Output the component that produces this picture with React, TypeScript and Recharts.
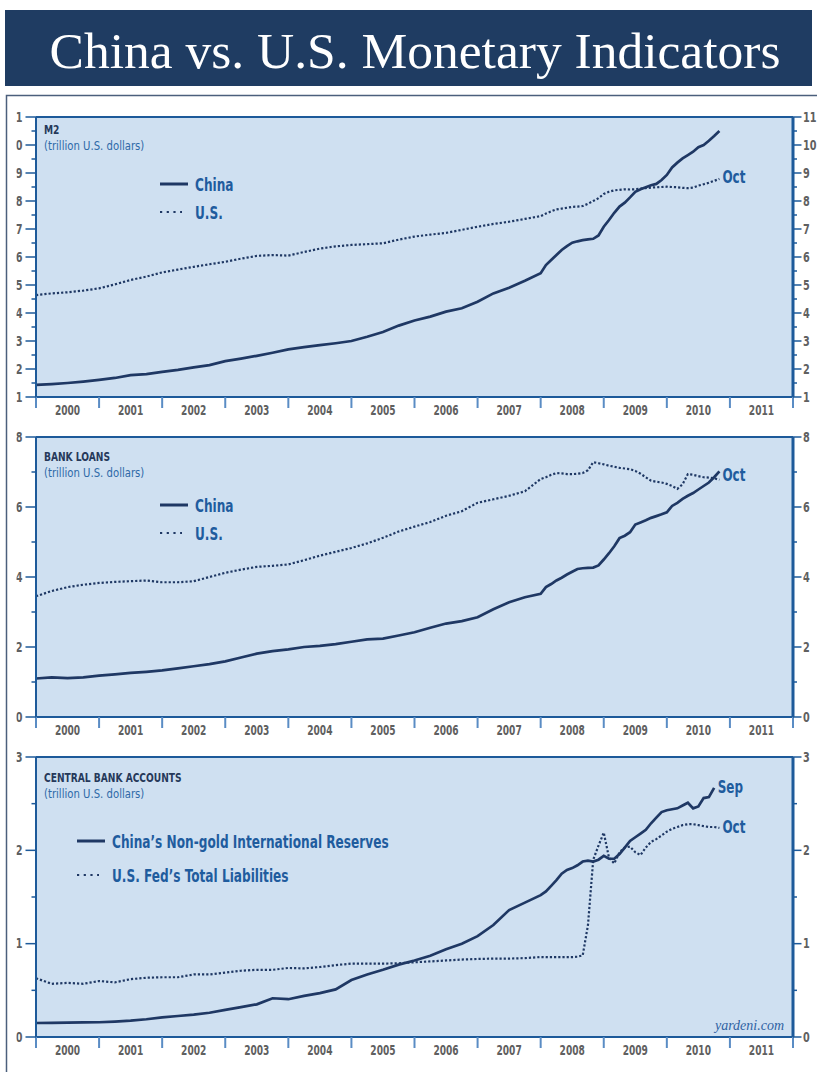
import React from "react";
import {
  CartesianGrid,
  Line,
  LineChart,
  ReferenceDot,
  ReferenceLine,
  XAxis,
  YAxis,
} from "recharts";

// month index from Jan 2000: quarterly through 2007, monthly from 2008 on
const months = [
  0, 3, 6, 9, 12, 15, 18, 21, 24, 27, 30, 33, 36, 39, 42, 45, 48, 51, 54, 57, 60, 63, 66, 69, 72,
  75, 78, 81, 84, 87, 90, 93, 96, 97, 98, 99, 100, 101, 102, 103, 104, 105, 106, 107, 108, 109,
  110, 111, 112, 113, 114, 115, 116, 117, 118, 119, 120, 121, 122, 123, 124, 125, 126, 127, 128,
  129, 130,
];

const m2China = [
  1.43, 1.46, 1.5, 1.55, 1.61, 1.68, 1.78, 1.82, 1.9, 1.97, 2.06, 2.14, 2.28, 2.37, 2.47, 2.58,
  2.7, 2.78, 2.85, 2.92, 3.0, 3.15, 3.32, 3.55, 3.73, 3.87, 4.05, 4.17, 4.4, 4.7, 4.9, 5.15, 5.42,
  5.71, 5.89, 6.07, 6.25, 6.39, 6.51, 6.56, 6.6, 6.63, 6.65, 6.77, 7.08, 7.32, 7.58, 7.8, 7.94,
  8.13, 8.33, 8.42, 8.49, 8.56, 8.61, 8.75, 8.93, 9.2, 9.37, 9.52, 9.64, 9.76, 9.92, 10.0, 10.15,
  10.32, 10.5,
];
const m2US = [
  4.64, 4.7, 4.74, 4.8, 4.88, 5.02, 5.18, 5.3, 5.45, 5.55, 5.65, 5.74, 5.83, 5.94, 6.04, 6.07,
  6.05, 6.18, 6.3, 6.38, 6.43, 6.46, 6.49, 6.62, 6.73, 6.8, 6.86, 6.97, 7.08, 7.18, 7.26, 7.36,
  7.46, 7.55, 7.63, 7.7, 7.73, 7.76, 7.79, 7.8, 7.82, 7.9, 8.0, 8.1, 8.25, 8.33, 8.38, 8.4, 8.42,
  8.41, 8.42, 8.44, 8.46, 8.48, 8.49, 8.5, 8.51, 8.5, 8.49, 8.47, 8.46, 8.48, 8.55, 8.6, 8.65,
  8.72, 8.79,
];

const loansChina = [
  1.1, 1.13, 1.11, 1.13, 1.18, 1.22, 1.26, 1.29, 1.33, 1.39, 1.45, 1.51, 1.59, 1.7, 1.81, 1.88,
  1.93, 2.0, 2.03, 2.08, 2.15, 2.22, 2.24, 2.33, 2.42, 2.55, 2.67, 2.74, 2.85, 3.08, 3.28, 3.42,
  3.52, 3.71, 3.8, 3.9, 3.98, 4.07, 4.15, 4.23, 4.25, 4.26, 4.27, 4.33, 4.5, 4.68, 4.88, 5.11,
  5.18, 5.28, 5.5, 5.56, 5.62, 5.69, 5.74, 5.79, 5.85, 6.03, 6.12, 6.23, 6.32, 6.4, 6.5, 6.6, 6.7,
  6.85, 7.02,
];
const loansUS = [
  3.45, 3.6, 3.71, 3.78, 3.83, 3.86, 3.88, 3.9, 3.85, 3.85, 3.88, 4.0, 4.12, 4.21, 4.29, 4.32,
  4.36, 4.48, 4.61, 4.72, 4.83, 4.96, 5.12, 5.3, 5.44, 5.57, 5.75, 5.88, 6.12, 6.22, 6.32, 6.45,
  6.8, 6.85, 6.92, 6.97, 6.96, 6.94, 6.94, 6.95, 6.97, 7.05, 7.28, 7.25, 7.22, 7.18, 7.15, 7.12,
  7.1, 7.08, 7.03, 6.95, 6.85, 6.75, 6.72, 6.7, 6.66, 6.6, 6.52, 6.65, 6.94, 6.92, 6.88, 6.85,
  6.84, 6.82, 6.78,
];

const reservesChina = [
  0.15, 0.152, 0.154, 0.156, 0.158, 0.165, 0.175, 0.19, 0.21, 0.225, 0.24, 0.26, 0.29, 0.32, 0.35,
  0.415, 0.405, 0.44, 0.47, 0.51, 0.61, 0.67, 0.72, 0.775, 0.82, 0.87, 0.94, 1.0, 1.08, 1.2, 1.36,
  1.44, 1.52, 1.56, 1.62, 1.68, 1.75, 1.79, 1.81, 1.84, 1.88, 1.89, 1.88, 1.9, 1.94, 1.91, 1.91,
  1.96, 2.03, 2.1, 2.14, 2.18, 2.22, 2.29, 2.35, 2.41, 2.43, 2.44, 2.45, 2.48, 2.51, 2.45, 2.47,
  2.56, 2.57, 2.67, null,
];
const fedLiabilities = [
  0.63, 0.57, 0.58, 0.57, 0.6, 0.585, 0.62, 0.635, 0.64, 0.64, 0.67, 0.67, 0.69, 0.71, 0.72, 0.72,
  0.74, 0.735, 0.75, 0.77, 0.786, 0.786, 0.786, 0.79, 0.8, 0.81, 0.82, 0.83, 0.836, 0.84, 0.84,
  0.845, 0.857, 0.855, 0.855, 0.855, 0.855, 0.855, 0.856, 0.86, 0.875, 1.2, 1.9, 2.05, 2.19, 1.92,
  1.86, 1.98, 2.03, 2.04, 1.98, 1.95, 2.03, 2.09, 2.12, 2.16, 2.2, 2.23, 2.25, 2.27, 2.28, 2.28,
  2.27, 2.26, 2.25, 2.25, 2.24,
];

const yearTicks = [0, 12, 24, 36, 48, 60, 72, 84, 96, 108, 120, 132, 144];

const m2Ticks = [1, 1.5, 2, 2.5, 3, 3.5, 4, 4.5, 5, 5.5, 6, 6.5, 7, 7.5, 8, 8.5, 9, 9.5, 10, 10.5, 11];
const m2Labels = [1, 2, 3, 4, 5, 6, 7, 8, 9, 10, 11];
const loanTicks = [0, 1, 2, 3, 4, 5, 6, 7, 8];
const loanLabels = [0, 2, 4, 6, 8];
const cbTicks = [0, 0.5, 1, 1.5, 2, 2.5, 3];
const cbLabels = [0, 1, 2, 3];

const NAVY = "#1f3864";
const AXIS = "#1d5a9a";
const YEAR_TICK = "#5a8cc4";
const BG = "#cfe0f1";
const BLUE_TEXT = "#1f5c9e";
const GRAY = "#606060";
const FONT = "'Liberation Sans Narrow', 'Arial Narrow', 'DejaVu Sans Condensed', sans-serif";
const SERIF = "'Liberation Serif', 'DejaVu Serif', serif";

const W = 817;
const PLOT_L = 36;
const PLOT_R = 793;
const HALF_YEAR = (PLOT_R - PLOT_L) / 24;

// condensed text: the installed sans is wider than the original's condensed face
function NText({ x, y, sx = 0.76, children, ...rest }: any) {
  return (
    <text transform={`translate(${x} ${y}) scale(${sx} 1)`} x={0} y={0} fontFamily={FONT} {...rest}>
      {children}
    </text>
  );
}

const rows = (a: (number | null)[], b: (number | null)[]) =>
  months.map((m, i) => ({ m, a: a[i], b: b[i] }));

function lastPoint(arr: (number | null)[]) {
  for (let i = arr.length - 1; i >= 0; i--) if (arr[i] != null) return { m: months[i], v: arr[i] as number };
  return { m: 0, v: 0 };
}

const leftTick = (labels: number[]) => (props: any) => {
  const { y, payload } = props;
  const v = payload.value;
  const major = labels.includes(v);
  return (
    <g>
      <line x1={major ? 25.5 : 31.5} x2={PLOT_L} y1={y} y2={y} stroke={AXIS} strokeWidth={1.5} />
      {major && (
        <svg x={16.4} y={y - 12} width={12} height={24} overflow="hidden">
          <NText x={6.2} y={16.8} sx={0.8} textAnchor="end" fontSize={13.5} fontWeight={700} fill={GRAY}>
            {v}
          </NText>
        </svg>
      )}
    </g>
  );
};

const rightTick = (labels: number[]) => (props: any) => {
  const { y, payload } = props;
  const v = payload.value;
  const major = labels.includes(v);
  return (
    <g>
      <line x1={PLOT_R} x2={major ? 801.5 : 797} y1={y} y2={y} stroke={AXIS} strokeWidth={1.5} />
      {major && (
        <NText x={803} y={y + 4.8} sx={0.8} fontSize={13.5} fontWeight={700} fill={GRAY}>
          {v}
        </NText>
      )}
    </g>
  );
};

function YearTick(props: any) {
  const { x, y, payload } = props;
  const v = payload.value;
  return (
    <g>
      <line x1={x} x2={x} y1={y} y2={y + 11} stroke={YEAR_TICK} strokeWidth={2} />
      {v < 144 && (
        <NText x={x + HALF_YEAR} y={y + 17.5} sx={0.72} textAnchor="middle" fontSize={14} fontWeight={700} fill={GRAY}>
          {2000 + v / 12}
        </NText>
      )}
    </g>
  );
}

const endTag = (text: string, dx: number, dy: number) => (p: any) => {
  const vb = p.viewBox || {};
  const cx = (vb.x || 0) + (vb.width || 0) / 2;
  const cy = (vb.y || 0) + (vb.height || 0) / 2;
  return (
    <NText x={cx + dx} y={cy + dy} sx={0.74} dominantBaseline="central" fontSize={18} fontWeight={700} fill={BLUE_TEXT}>
      {text}
    </NText>
  );
};

function Panel({
  top,
  solid,
  dotted,
  domain,
  ticks,
  labels,
  solidTag,
  dottedTag,
}: {
  top: number;
  solid: (number | null)[];
  dotted: (number | null)[];
  domain: [number, number];
  ticks: number[];
  labels: number[];
  solidTag?: [string, number, number];
  dottedTag?: [string, number, number];
}) {
  const data = rows(solid, dotted);
  const sEnd = lastPoint(solid);
  const dEnd = lastPoint(dotted);
  return (
    <div style={{ position: "absolute", left: 0, top }}>
      <LineChart width={W} height={330} data={data} margin={{ top: 17, right: 0, bottom: 0, left: 0 }}>
        <CartesianGrid fill={BG} stroke="none" horizontal={false} vertical={false} />
        <XAxis
          dataKey="m"
          type="number"
          domain={[0, 144]}
          ticks={yearTicks}
          interval={0}
          height={33}
          tickLine={false}
          tickSize={0}
          tickMargin={0}
          axisLine={{ stroke: AXIS, strokeWidth: 2 }}
          tick={<YearTick />}
        />
        <YAxis
          type="number"
          domain={domain}
          ticks={ticks}
          interval={0}
          width={PLOT_L}
          tickLine={false}
          tickSize={0}
          tickMargin={0}
          axisLine={{ stroke: AXIS, strokeWidth: 2 }}
          tick={leftTick(labels)}
          allowDataOverflow
        />
        <YAxis
          yAxisId="r"
          orientation="right"
          type="number"
          domain={domain}
          ticks={ticks}
          interval={0}
          width={W - PLOT_R}
          tickLine={false}
          tickSize={0}
          tickMargin={0}
          axisLine={{ stroke: AXIS, strokeWidth: 3 }}
          tick={rightTick(labels)}
          allowDataOverflow
        />
        <ReferenceLine y={domain[1]} stroke={AXIS} strokeWidth={2} />
        <Line
          dataKey="b"
          type="linear"
          stroke={NAVY}
          strokeWidth={2.2}
          strokeDasharray="2.2 2"
          dot={false}
          activeDot={false}
          isAnimationActive={false}
        />
        <Line
          dataKey="a"
          type="linear"
          stroke={NAVY}
          strokeWidth={2.7}
          dot={false}
          activeDot={false}
          isAnimationActive={false}
        />
        {solidTag && (
          <ReferenceDot x={sEnd.m} y={sEnd.v} r={0} fill="none" stroke="none" label={endTag(...solidTag)} />
        )}
        {dottedTag && (
          <ReferenceDot x={dEnd.m} y={dEnd.v} r={0} fill="none" stroke="none" label={endTag(...dottedTag)} />
        )}
      </LineChart>
    </div>
  );
}

function LegendItem({ x, y, text, dotted }: { x: number; y: number; text: string; dotted?: boolean }) {
  return (
    <g>
      {dotted ? (
        <line x1={x} x2={x + 22} y1={y} y2={y} stroke={NAVY} strokeWidth={2.2} strokeDasharray="2.2 4.5" />
      ) : (
        <line x1={x} x2={x + 28} y1={y} y2={y} stroke={NAVY} strokeWidth={3} />
      )}
      <NText x={x + 35} y={y + 6.8} sx={0.75} fontSize={18} fontWeight={700} fill={BLUE_TEXT}>
        {text}
      </NText>
    </g>
  );
}

function PanelTitle({ x, y, title }: { x: number; y: number; title: string }) {
  return (
    <g>
      <NText x={x} y={y} sx={0.78} fontSize={13} fontWeight={700} fill="#26395a">
        {title}
      </NText>
      <NText x={x} y={y + 15.5} sx={0.9} fontSize={12.5} fill="#2e6aa8">
        (trillion U.S. dollars)
      </NText>
    </g>
  );
}

export default function App() {
  return (
    <div style={{ position: "absolute", left: 0, top: 0, width: W, height: 1072, background: "#fff", overflow: "hidden" }}>
      <Panel top={100} solid={m2China} dotted={m2US} domain={[1, 11]} ticks={m2Ticks} labels={m2Labels} dottedTag={["Oct", 3, -2]} />
      <Panel top={420} solid={loansChina} dotted={loansUS} domain={[0, 8]} ticks={loanTicks} labels={loanLabels} dottedTag={["Oct", 3, -5]} />
      <Panel
        top={740}
        solid={reservesChina}
        dotted={fedLiabilities}
        domain={[0, 3]}
        ticks={cbTicks}
        labels={cbLabels}
        solidTag={["Sep", 3.5, -1]}
        dottedTag={["Oct", 3, -1.5]}
      />
      <svg width={W} height={1072} style={{ position: "absolute", left: 0, top: 0, pointerEvents: "none" }}>
        <rect x={5} y={10} width={807} height={76} fill="#1f3c62" />
        <text x={415} y={68} textAnchor="middle" fontSize={51.5} fill="#fff" fontFamily={SERIF}>
          China vs. U.S. Monetary Indicators
        </text>
        <polyline points="6.5,1072 6.5,95.5 817,95.5" fill="none" stroke="#4b5f7c" strokeWidth={1.5} />

        <PanelTitle x={44} y={134} title="M2" />
        <LegendItem x={160} y={184} text="China" />
        <LegendItem x={160} y={212} text="U.S." dotted />

        <PanelTitle x={44} y={461} title="BANK LOANS" />
        <LegendItem x={160} y={505} text="China" />
        <LegendItem x={160} y={533} text="U.S." dotted />

        <PanelTitle x={44} y={782} title="CENTRAL BANK ACCOUNTS" />
        <LegendItem x={77} y={841} text="China’s Non-gold International Reserves" />
        <LegendItem x={77} y={875} text="U.S. Fed’s Total Liabilities" dotted />

        <text x={784} y={1030} textAnchor="end" fontSize={14} fontStyle="italic" fill="#2f63a3" fontFamily={SERIF}>
          yardeni.com
        </text>
      </svg>
    </div>
  );
}
